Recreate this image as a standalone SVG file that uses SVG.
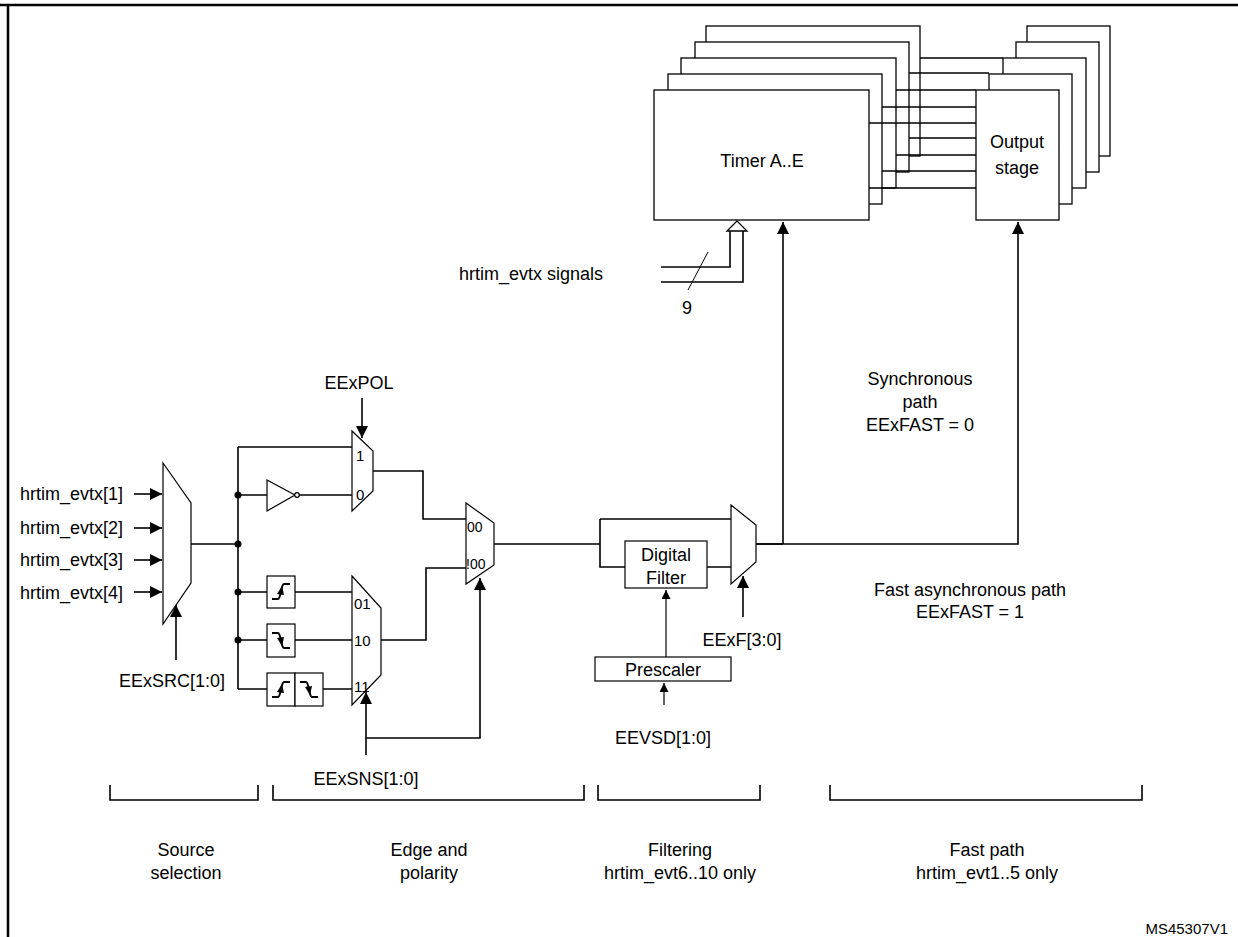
<svg xmlns="http://www.w3.org/2000/svg" width="1238" height="937" viewBox="0 0 1238 937">
<defs>
<marker id="ahb" viewBox="0 0 10 10" refX="10" refY="5" markerWidth="7.5" markerHeight="7.5" orient="auto"><path d="M0,0 L10,5 L0,10 z" fill="#000"/></marker>
<g id="rise"><path d="M5,23 h6 c3,0 3,-15 6,-15 h6" fill="none" stroke="#000" stroke-width="2"/><path d="M10,18 L15,10 L17,19 z" fill="#000"/></g>
<g id="fall"><path d="M5,8 h6 c3,0 3,15 6,15 h6" fill="none" stroke="#000" stroke-width="2"/><path d="M10,13 L15,21 L17,12 z" fill="#000"/></g>
</defs>
<style>
.t{font-family:"Liberation Sans",Arial,sans-serif;font-size:18px;fill:#000}
.s{font-family:"Liberation Sans",Arial,sans-serif;font-size:15px;fill:#000}
.v{font-family:"Liberation Sans",Arial,sans-serif;font-size:14px;fill:#000}
.b{fill:#fff;stroke:#000;stroke-width:1.3}
.w{fill:none;stroke:#000;stroke-width:1.6}
.m{fill:#fff;stroke:#000;stroke-width:1.2}
</style>
<rect width="1238" height="937" fill="#fff"/>
<path d="M0,5 H1238 M8,5 V937" stroke="#000" stroke-width="2.5" fill="none"/>

<g id="timer">
<rect class="b" x="706" y="26" width="214" height="130"/>
<rect class="b" x="695" y="42" width="214" height="130"/>
<rect class="b" x="681" y="58" width="215" height="130"/>
<rect class="b" x="668" y="74" width="214" height="130"/>
<rect class="b" x="654" y="90" width="215" height="130"/>
<text class="t" x="762" y="167" text-anchor="middle">Timer A..E</text>
</g>
<g id="output">
<rect class="b" x="1027" y="26" width="83" height="130"/>
<rect class="b" x="1016" y="42" width="83" height="130"/>
<rect class="b" x="1003" y="58" width="83" height="130"/>
<rect class="b" x="989" y="74" width="83" height="130"/>
<rect class="b" x="976" y="90" width="83" height="130"/>
<text class="t" x="1017" y="148" text-anchor="middle">Output</text>
<text class="t" x="1017" y="174" text-anchor="middle">stage</text>
</g>

<g id="connectors">
<path class="w" d="M920,58 H1003 M909,73 H989 M896,90 H976 M882,107 H976 M869,123 H976 M909,138 H976 M896,155 H976 M882,171 H976 M869,188 H976"/>
<path class="w" d="M661,267 H730 V230 M661,282 H743 V230" stroke-width="1.3"/>
<path d="M737,221 L727,231 L747,231 z" fill="#fff" stroke="#000" stroke-width="1.3"/>
<path d="M688,290 L708,252" stroke="#000" stroke-width="1"/>
<path class="w" d="M783,544 V222" marker-end="url(#ahb)"/>
<path class="w" d="M755,544 H1018 V222" marker-end="url(#ahb)"/>
<path class="w" d="M134,494 H162" marker-end="url(#ahb)"/>
<path class="w" d="M134,528 H162" marker-end="url(#ahb)"/>
<path class="w" d="M134,560 H162" marker-end="url(#ahb)"/>
<path class="w" d="M134,592 H162" marker-end="url(#ahb)"/>
<path class="w" d="M176,660 V605" marker-end="url(#ahb)"/>
<path class="w" d="M191,544 H238 M238,447 V689 M238,447 H352 M238,495 H267 M299,495 H352 M238,592 H267 M295,592 H352 M238,640 H267 M295,640 H352 M238,689 H267 M323,689 H352"/>
<circle cx="238" cy="495" r="3.5"/><circle cx="238" cy="544" r="3.5"/><circle cx="238" cy="592" r="3.5"/><circle cx="238" cy="640" r="3.5"/>
<path class="w" d="M362,398 V438" marker-end="url(#ahb)"/>
<path class="w" d="M373,471 H423 V519 H466 M381,640 H426 V568 H466"/>
<path class="w" d="M366,755 V692" marker-end="url(#ahb)"/>
<path class="w" d="M366,738 H480 V578" marker-end="url(#ahb)"/>
<path class="w" d="M494,544 H600 M600,519 H731 M600,519 V567 H625 M707,567 H731 M756,544 H783"/>
<path class="w" d="M743,617 V576" marker-end="url(#ahb)"/>
<path d="M666,657 V590" stroke="#000" stroke-width="1.2" marker-end="url(#ahb)"/>
<path d="M664,705 V683" stroke="#000" stroke-width="1.2" marker-end="url(#ahb)"/>
<path class="w" d="M110,785 V800 H258 V785 M273,785 V800 H584 V785 M598,785 V800 H760 V785 M830,785 V800 H1142 V785"/>
</g>

<g id="src-mux"><path class="m" d="M163,463 L191,503 V583 L163,624 z"/></g>
<g id="pol-mux"><path class="m" d="M352,431 L373,451 V491 L352,511 z"/>
<text class="s" x="356" y="461">1</text><text class="s" x="356" y="500">0</text></g>
<g id="inverter"><path class="m" d="M267,480 L295,495 L267,511 z"/><circle cx="297" cy="495" r="2.3" class="m"/></g>
<g id="edge1"><rect class="m" x="267" y="576" width="28" height="32"/><use href="#rise" x="267" y="576"/></g>
<g id="edge2"><rect class="m" x="267" y="624" width="28" height="33"/><use href="#fall" x="267" y="625"/></g>
<g id="edge3"><rect class="m" x="267" y="673" width="28" height="33"/><rect class="m" x="295" y="673" width="28" height="33"/><use href="#rise" x="267" y="674"/><use href="#fall" x="295" y="674"/></g>
<g id="sns-mux"><path class="m" d="M352,576 L381,608 V675 L352,705 z"/>
<text class="s" x="354" y="609">01</text><text class="s" x="354" y="646">10</text><text class="s" x="354" y="692">11</text></g>
<g id="sel-mux"><path class="m" d="M466,503 L494,523 V565 L466,584 z"/>
<text class="v" x="467" y="532">00</text><text class="v" x="466" y="569">!00</text></g>
<g id="filter"><rect class="m" x="625" y="541" width="82" height="47"/>
<text class="t" x="666" y="561" text-anchor="middle">Digital</text><text class="t" x="666" y="584" text-anchor="middle">Filter</text></g>
<g id="fast-mux"><path class="m" d="M731,505 L756,525 V562 L731,584 z"/></g>
<g id="prescaler"><rect class="m" x="595" y="657" width="136" height="24"/>
<text class="t" x="663" y="676" text-anchor="middle">Prescaler</text></g>

<g id="labels">
<text class="t" x="603" y="280" text-anchor="end">hrtim_evtx signals</text>
<text class="t" x="687" y="314" text-anchor="middle">9</text>
<text class="t" x="20" y="500">hrtim_evtx[1]</text>
<text class="t" x="20" y="534">hrtim_evtx[2]</text>
<text class="t" x="20" y="566">hrtim_evtx[3]</text>
<text class="t" x="20" y="599">hrtim_evtx[4]</text>
<text class="t" x="172" y="687" text-anchor="middle">EExSRC[1:0]</text>
<text class="t" x="359" y="389" text-anchor="middle">EExPOL</text>
<text class="t" x="366" y="785" text-anchor="middle">EExSNS[1:0]</text>
<text class="t" x="742" y="646" text-anchor="middle">EExF[3:0]</text>
<text class="t" x="663" y="744" text-anchor="middle">EEVSD[1:0]</text>
<text class="t" x="920" y="385" text-anchor="middle">Synchronous</text>
<text class="t" x="920" y="408" text-anchor="middle">path</text>
<text class="t" x="920" y="431" text-anchor="middle">EExFAST = 0</text>
<text class="t" x="970" y="596" text-anchor="middle">Fast asynchronous path</text>
<text class="t" x="970" y="618" text-anchor="middle">EExFAST = 1</text>
<text class="t" x="186" y="856" text-anchor="middle">Source</text>
<text class="t" x="186" y="879" text-anchor="middle">selection</text>
<text class="t" x="429" y="856" text-anchor="middle">Edge and</text>
<text class="t" x="429" y="879" text-anchor="middle">polarity</text>
<text class="t" x="680" y="856" text-anchor="middle">Filtering</text>
<text class="t" x="680" y="879" text-anchor="middle">hrtim_evt6..10 only</text>
<text class="t" x="987" y="856" text-anchor="middle">Fast path</text>
<text class="t" x="987" y="879" text-anchor="middle">hrtim_evt1..5 only</text>
<text class="s" x="1228" y="934" text-anchor="end">MS45307V1</text>
</g>
</svg>
